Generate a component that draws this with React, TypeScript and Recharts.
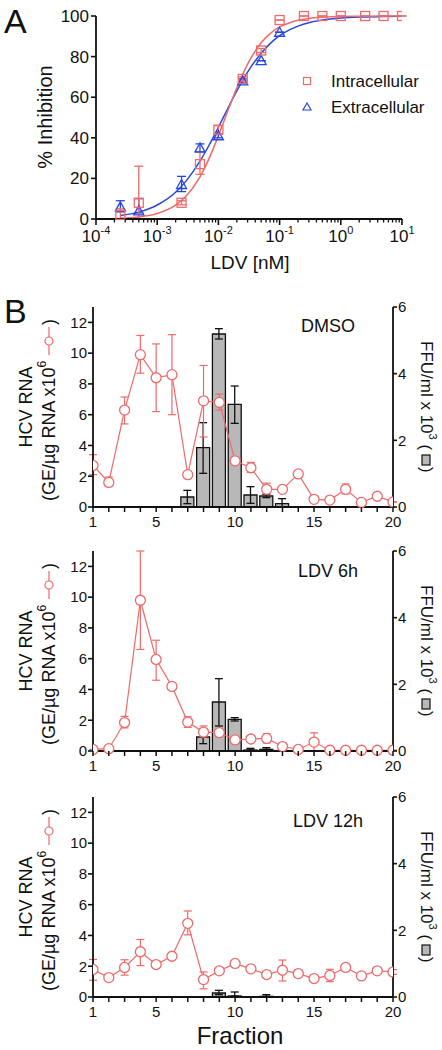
import React from 'react';
import { ComposedChart, Line, Scatter, Bar, XAxis, YAxis, ErrorBar } from 'recharts';

const FONT = '"Liberation Sans", Arial, Helvetica, sans-serif';
const RED = '#ef6a6a';
const BLUE = '#2547e2';
const BAR_FILL = '#b8b8b8';
const INK = '#111';

// ---- Panel A: % inhibition vs LDV (nM) ----
const ldvConc = [0.00025, 0.0005, 0.0025, 0.005, 0.01, 0.025, 0.05, 0.1, 0.25, 0.5, 1, 2.5, 5, 10];
const intraMean = [2, 8, 8, 27, 44, 69, 83, 98, 100, 100, 100, 100, 100, 100];
const intraErrDown = [2, 8, 1, 5, 2, 1, 1, 0, 0, 0, 0, 0, 0, 0];
const intraErrUp = [3, 18, 1, 6, 2, 1, 1, 0, 0, 0, 0, 0, 0, 0];

const extraConc = [0.00025, 0.0005, 0.0025, 0.005, 0.01, 0.025, 0.05, 0.1];
const extraMean = [6, 4, 17, 35, 41, 68, 78, 92];
const extraErrDown = [2.5, 1, 3.5, 2, 1, 1, 0, 0];
const extraErrUp = [3, 6, 4, 2, 1, 1, 0, 0];

// fitted curves
const fitConc = [0.00025, 0.0005, 0.001, 0.002, 0.003, 0.005, 0.007, 0.01, 0.015, 0.02, 0.03, 0.05, 0.07, 0.1, 0.15, 0.2, 0.3, 0.5, 1, 2, 5, 10];
const intraFit = [0.4, 1.0, 2.7, 6.8, 11.4, 20.8, 29.6, 41, 55, 64.6, 76.3, 86.8, 91.3, 94.6, 96.8, 97.9, 98.8, 99.4, 99.8, 99.9, 100, 100];
const extraFit = [1.7, 3.4, 6.9, 13.2, 18.9, 28.5, 36.2, 45.2, 55.8, 63.1, 72.4, 81.7, 86.4, 90.3, 93.4, 95, 96.7, 98, 99, 99.5, 99.8, 99.9];

const xMajor = [1e-4, 1e-3, 1e-2, 1e-1, 1, 10];
const xMajorExp = ['-4', '-3', '-2', '-1', '0', '1'];
const inhibitionTicks = [0, 20, 40, 60, 80, 100];

// ---- Panel B: gradient fractions ----
const fractions = [1, 2, 3, 4, 5, 6, 7, 8, 9, 10, 11, 12, 13, 14, 15, 16, 17, 18, 19, 20];
const fractionLabels = [1, 5, 10, 15, 20];
const rnaTicks = [0, 2, 4, 6, 8, 10, 12];
const ffuTicks = [0, 2, 4, 6];

// DMSO
const dmsoRna = [2.7, 1.6, 6.3, 9.9, 8.4, 8.6, 2.1, 6.9, 6.8, 3.0, 2.55, 1.15, 1.15, 2.15, 0.5, 0.45, 1.15, 0.3, 0.7, 0.33];
const dmsoRnaDown = [0.6, 0.25, 0.9, 1.2, 2.2, 2.6, 0.1, 2.35, 0.5, 0.1, 0.3, 0.3, 0, 0, 0, 0.1, 0.3, 0, 0, 0];
const dmsoRnaUp = [0.7, 0.35, 0.85, 1.25, 2.2, 2.6, 0.1, 2.3, 0.55, 0.1, 0.35, 0.4, 0, 0, 0, 0.1, 0.35, 0, 0, 0];
const dmsoFfu = [0, 0, 0, 0, 0, 0, 0.3, 1.78, 5.19, 3.08, 0.36, 0.33, 0.1, 0, 0, 0, 0, 0, 0, 0];
const dmsoFfuDown = [0, 0, 0, 0, 0, 0, 0.2, 0.77, 0.15, 0.57, 0.25, 0.05, 0.1, 0, 0, 0, 0, 0, 0, 0];
const dmsoFfuUp = [0, 0, 0, 0, 0, 0, 0.2, 0.75, 0.16, 0.55, 0.25, 0.05, 0.15, 0, 0, 0, 0, 0, 0, 0];

// LDV 6h
const ldv6Rna = [0.1, 0.15, 1.85, 9.8, 5.95, 4.2, 1.88, 1.23, 1.19, 0.72, 0.78, 0.82, 0.29, 0.1, 0.58, 0.05, 0.05, 0.05, 0.05, 0.05];
const ldv6RnaDown = [0, 0, 0.35, 3.2, 1.35, 0.2, 0.35, 0.3, 0, 0, 0.05, 0.3, 0, 0, 0.55, 0, 0, 0, 0, 0];
const ldv6RnaUp = [0, 0, 0.4, 3.2, 1.25, 0.15, 0.35, 0.4, 0, 0, 0.05, 0.3, 0, 0, 0.6, 0, 0, 0, 0, 0];
const ldv6Ffu = [0, 0, 0, 0, 0, 0, 0, 0.42, 1.47, 0.95, 0.03, 0.05, 0, 0, 0, 0, 0, 0, 0, 0];
const ldv6FfuDown = [0, 0, 0, 0, 0, 0, 0, 0.2, 0.72, 0.05, 0, 0, 0, 0, 0, 0, 0, 0, 0, 0];
const ldv6FfuUp = [0, 0, 0, 0, 0, 0, 0, 0.2, 0.7, 0.05, 0.05, 0.05, 0, 0, 0, 0, 0, 0, 0, 0];

// LDV 12h
const ldv12Rna = [1.79, 1.26, 1.92, 2.94, 2.11, 2.65, 4.79, 1.13, 1.7, 2.18, 1.83, 1.46, 1.74, 1.52, 1.2, 1.4, 1.92, 1.37, 1.7, 1.63];
const ldv12RnaDown = [0.7, 0, 0.5, 0.9, 0.1, 0, 0.75, 0.6, 0.2, 0, 0.17, 0, 0.7, 0.25, 0, 0.4, 0, 0, 0, 0.15];
const ldv12RnaUp = [0.65, 0, 0.5, 0.8, 0.1, 0, 0.8, 0.5, 0.2, 0, 0.17, 0, 0.66, 0.25, 0, 0.4, 0, 0, 0, 0.15];
const ldv12Ffu = [0, 0, 0, 0, 0, 0, 0, 0, 0.12, 0.03, 0, 0.02, 0, 0, 0, 0, 0, 0, 0, 0];
const ldv12FfuDown = [0, 0, 0, 0, 0, 0, 0, 0, 0.05, 0, 0, 0, 0, 0, 0, 0, 0, 0, 0, 0];
const ldv12FfuUp = [0, 0, 0, 0, 0, 0, 0, 0, 0.08, 0.12, 0, 0.05, 0, 0, 0, 0, 0, 0, 0, 0];

const axisLine = { stroke: INK, strokeWidth: 1.8 };
const tickLine = { stroke: INK, strokeWidth: 1.6 };

const LogTick = (props: any) => {
  const { x, y, payload } = props;
  const v = payload.value;
  const idx = xMajor.findIndex((m) => Math.abs(m - v) / m < 1e-6);
  if (idx < 0) {
    return <line x1={x} x2={x} y1={y} y2={y + 3.5} stroke={INK} strokeWidth={1.3} />;
  }
  return (
    <g>
      <line x1={x} x2={x} y1={y} y2={y + 6} stroke={INK} strokeWidth={1.6} />
      <text x={x} y={y + 23} textAnchor="middle" fontSize={17} fontFamily={FONT} fill={INK}>
        10<tspan dy={-8} fontSize={11}>{xMajorExp[idx]}</tspan>
      </text>
    </g>
  );
};

const FractionTick = (props: any) => {
  const { x, y, payload } = props;
  const v = payload.value;
  return (
    <g>
      <line x1={x} x2={x} y1={y} y2={y + 5} stroke={INK} strokeWidth={1.5} />
      {fractionLabels.includes(v) && (
        <text x={x} y={y + 20} textAnchor="middle" fontSize={15} fontFamily={FONT} fill={INK}>
          {v}
        </text>
      )}
    </g>
  );
};

const SquareShape = (p: any) => (
  <rect x={p.cx - 4.5} y={p.cy - 4.5} width={9} height={9} fill="none" stroke={RED} strokeWidth={1.3} />
);
const TriangleShape = (p: any) => (
  <polygon
    points={`${p.cx},${p.cy - 5} ${p.cx - 5},${p.cy + 4} ${p.cx + 5},${p.cy + 4}`}
    fill="none"
    stroke={BLUE}
    strokeWidth={1.3}
  />
);

const PanelA = () => {
  const logTicks: number[] = [];
  xMajor.forEach((d, i) => {
    logTicks.push(d);
    if (i < xMajor.length - 1) for (let m = 2; m <= 9; m++) logTicks.push(m * d);
  });
  const intraData = ldvConc.map((x, i) => ({ x, y: intraMean[i], err: [intraErrDown[i], intraErrUp[i]] }));
  const extraData = extraConc.map((x, i) => ({ x, y: extraMean[i], err: [extraErrDown[i], extraErrUp[i]] }));
  const intraCurve = fitConc.map((x, i) => ({ x, y: intraFit[i] }));
  const extraCurve = fitConc.map((x, i) => ({ x, y: extraFit[i] }));
  return (
    <div style={{ position: 'absolute', left: 0, top: 0 }}>
      <ComposedChart width={442} height={290} margin={{ top: 16, right: 40, bottom: 21, left: 56 }}>
        <XAxis
          dataKey="x"
          type="number"
          scale="log"
          domain={[1e-4, 10]}
          allowDataOverflow
          ticks={logTicks}
          interval={0}
          tick={LogTick}
          tickSize={0}
          tickMargin={0}
          tickLine={false}
          axisLine={axisLine}
          height={50}
        />
        <YAxis
          type="number"
          domain={[0, 100]}
          ticks={inhibitionTicks}
          width={40}
          tickSize={5}
          tickMargin={2}
          axisLine={axisLine}
          tickLine={tickLine}
          tick={{ fill: INK, fontSize: 17, fontFamily: FONT }}
        />
        <Line data={extraCurve} dataKey="y" type="monotone" stroke={BLUE} strokeWidth={1.5} dot={false} isAnimationActive={false} />
        <Line data={intraCurve} dataKey="y" type="monotone" stroke={RED} strokeWidth={1.5} dot={false} isAnimationActive={false} />
        <Scatter data={extraData} dataKey="y" shape={TriangleShape} isAnimationActive={false}>
          <ErrorBar dataKey="err" direction="y" width={4.5} stroke={BLUE} strokeWidth={1.3} />
        </Scatter>
        <Scatter data={intraData} dataKey="y" shape={SquareShape} isAnimationActive={false}>
          <ErrorBar dataKey="err" direction="y" width={4.5} stroke={RED} strokeWidth={1.3} />
        </Scatter>
      </ComposedChart>
    </div>
  );
};

const PLOT_H = 200;

type PanelProps = {
  top: number;
  rna: number[];
  rnaDown: number[];
  rnaUp: number[];
  ffu: number[];
  ffuDown: number[];
  ffuUp: number[];
};

const FractionPanel = ({ top, rna, rnaDown, rnaUp, ffu, ffuDown, ffuUp }: PanelProps) => {
  const data = fractions.map((f, i) => ({
    f,
    rna: rna[i],
    rnaErr: [rnaDown[i], rnaUp[i]],
    ffu: ffu[i],
    ffuErr: [ffuDown[i], ffuUp[i]],
  }));
  return (
    <div style={{ position: 'absolute', left: 0, top: top - 20 }}>
      <ComposedChart width={442} height={PLOT_H + 60} data={data} margin={{ top: 20, right: 9, bottom: 15, left: 53 }}>
        <XAxis
          dataKey="f"
          type="number"
          domain={[1, 20]}
          allowDataOverflow
          ticks={fractions}
          interval={0}
          tick={FractionTick}
          tickSize={0}
          tickMargin={0}
          tickLine={false}
          axisLine={axisLine}
          height={25}
        />
        <YAxis
          yAxisId="left"
          domain={[0, 13]}
          ticks={rnaTicks}
          width={40}
          tickSize={5}
          tickMargin={1}
          axisLine={axisLine}
          tickLine={tickLine}
          tick={{ fill: INK, fontSize: 15, fontFamily: FONT }}
        />
        <YAxis
          yAxisId="right"
          orientation="right"
          domain={[0, 6]}
          ticks={ffuTicks}
          width={40}
          tickSize={4}
          tickMargin={1}
          axisLine={axisLine}
          tickLine={tickLine}
          tick={{ fill: INK, fontSize: 15, fontFamily: FONT }}
        />
        <Bar yAxisId="right" dataKey="ffu" barSize={13} fill={BAR_FILL} stroke={INK} strokeWidth={1.3} isAnimationActive={false}>
          <ErrorBar dataKey="ffuErr" direction="y" width={4} stroke={INK} strokeWidth={1.3} />
        </Bar>
        <Line
          yAxisId="left"
          dataKey="rna"
          type="linear"
          stroke={RED}
          strokeWidth={1.2}
          isAnimationActive={false}
          dot={(p: any) => (
            <circle key={`d${p.index}`} cx={p.cx} cy={p.cy} r={5} fill="#fff" stroke={RED} strokeWidth={1.3} />
          )}
        >
          <ErrorBar dataKey="rnaErr" direction="y" width={4} stroke={RED} strokeWidth={1.2} />
        </Line>
      </ComposedChart>
    </div>
  );
};

const panelTops = [307, 551, 797];
const panelTitles = ['DMSO', 'LDV 6h', 'LDV 12h'];
const titleBaselines = [332, 577, 827];

const LeftLabel = ({ cy }: { cy: number }) => (
  <g fontFamily={FONT} fill={INK} fontSize={18}>
    <text transform={`translate(26,${cy}) rotate(-90)`} textAnchor="middle" dominantBaseline="central">
      HCV RNA
    </text>
    <g transform={`translate(49,${cy}) rotate(-90)`}>
      <text x={-94} y={0} dominantBaseline="central">
        (GE/µg RNA x10<tspan dy={-7} fontSize={12}>6</tspan>
      </text>
      <line x1={52} x2={80} y1={0} y2={0} stroke={RED} strokeWidth={1.2} />
      <circle cx={66} cy={0} r={4} fill="#fff" stroke={RED} strokeWidth={1.2} />
      <text x={82} y={0} dominantBaseline="central">)</text>
    </g>
  </g>
);

const RightLabel = ({ cy }: { cy: number }) => (
  <g transform={`translate(426,${cy}) rotate(90)`} fontFamily={FONT} fill={INK} fontSize={17}>
    <text x={-66} y={0} dominantBaseline="central">
      FFU/ml x 10<tspan dy={-7} fontSize={11}>3</tspan>
      <tspan dy={7}> (</tspan>
    </text>
    <rect x={48} y={-4} width={10} height={8} fill={BAR_FILL} stroke={INK} strokeWidth={1.2} />
    <text x={60} y={0} dominantBaseline="central">)</text>
  </g>
);

export default function App() {
  return (
    <div style={{ position: 'absolute', left: 0, top: 0, width: 442, height: 1050, background: '#fff', fontFamily: FONT }}>
      <PanelA />
      <FractionPanel top={panelTops[0]} rna={dmsoRna} rnaDown={dmsoRnaDown} rnaUp={dmsoRnaUp} ffu={dmsoFfu} ffuDown={dmsoFfuDown} ffuUp={dmsoFfuUp} />
      <FractionPanel top={panelTops[1]} rna={ldv6Rna} rnaDown={ldv6RnaDown} rnaUp={ldv6RnaUp} ffu={ldv6Ffu} ffuDown={ldv6FfuDown} ffuUp={ldv6FfuUp} />
      <FractionPanel top={panelTops[2]} rna={ldv12Rna} rnaDown={ldv12RnaDown} rnaUp={ldv12RnaUp} ffu={ldv12Ffu} ffuDown={ldv12FfuDown} ffuUp={ldv12FfuUp} />
      <svg width={442} height={1050} style={{ position: 'absolute', left: 0, top: 0, pointerEvents: 'none' }}>
        <g fontFamily={FONT} fill={INK}>
          <text x={4} y={33} fontSize={34}>A</text>
          <text x={4} y={323} fontSize={34}>B</text>
          <text transform="translate(45,117) rotate(-90)" textAnchor="middle" dominantBaseline="central" fontSize={20}>
            % Inhibition
          </text>
          <text x={250} y={269} textAnchor="middle" fontSize={19}>LDV [nM]</text>
          <rect x={303.5} y={77.5} width={7} height={7} fill="none" stroke={RED} strokeWidth={1.2} />
          <text x={331} y={87} fontSize={17}>Intracellular</text>
          <polygon points="307,103 303,110 311,110" fill="none" stroke={BLUE} strokeWidth={1.2} />
          <text x={331} y={113} fontSize={17}>Extracellular</text>
          {panelTitles.map((t, i) => (
            <text key={t} x={328} y={titleBaselines[i]} textAnchor="middle" fontSize={18}>
              {t}
            </text>
          ))}
          <text x={240} y={1044} textAnchor="middle" fontSize={24}>Fraction</text>
        </g>
        {panelTops.map((t) => (
          <g key={t}>
            <LeftLabel cy={t + PLOT_H / 2} />
            <RightLabel cy={t + PLOT_H / 2} />
          </g>
        ))}
      </svg>
    </div>
  );
}
